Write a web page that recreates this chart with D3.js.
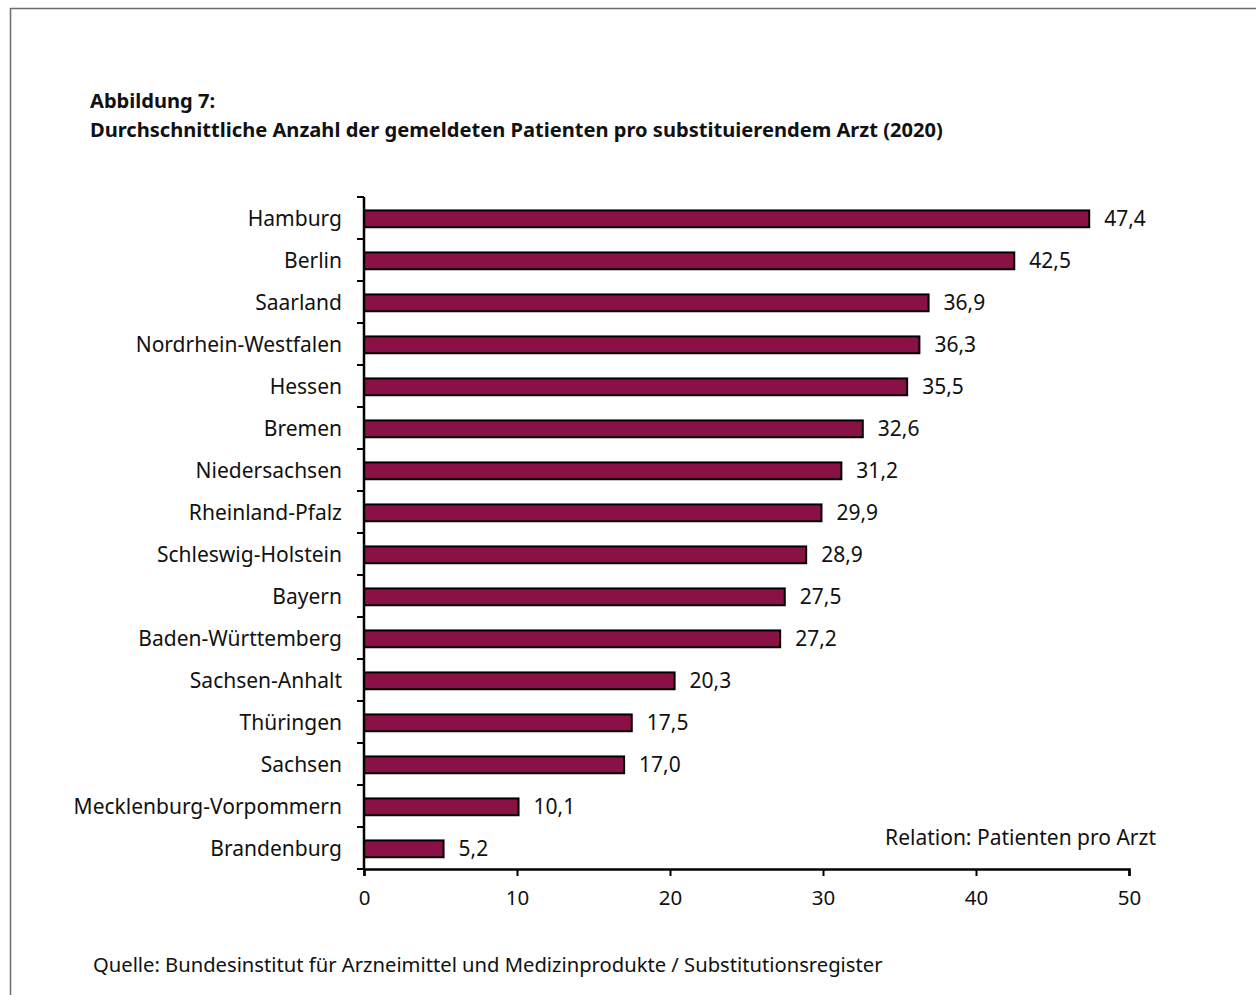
<!DOCTYPE html>
<html>
<head>
<meta charset="utf-8">
<script src="https://cdn.jsdelivr.net/npm/d3@7"></script>
<style>
  html, body { margin: 0; padding: 0; background: #fff; }
  svg { display: block; font-family: "Noto Sans", "Open Sans", sans-serif; }
</style>
</head>
<body>
<svg id="chart" width="1256" height="995"></svg>
<script>
// Patients per substituting physician by federal state (2020)
const states = [
  "Hamburg", "Berlin", "Saarland", "Nordrhein-Westfalen", "Hessen", "Bremen",
  "Niedersachsen", "Rheinland-Pfalz", "Schleswig-Holstein", "Bayern",
  "Baden-Württemberg", "Sachsen-Anhalt", "Thüringen", "Sachsen",
  "Mecklenburg-Vorpommern", "Brandenburg"
];
const patientsPerDoctor = [47.4, 42.5, 36.9, 36.3, 35.5, 32.6, 31.2, 29.9, 28.9, 27.5, 27.2, 20.3, 17.5, 17.0, 10.1, 5.2];
const xTicks = [0, 10, 20, 30, 40, 50];

const titleLines = [
  "Abbildung 7:",
  "Durchschnittliche Anzahl der gemeldeten Patienten pro substituierendem Arzt (2020)"
];
const noteText = "Relation: Patienten pro Arzt";
const sourceText = "Quelle: Bundesinstitut für Arzneimittel und Medizinprodukte / Substitutionsregister";

const svg = d3.select("#chart");
const fmt = v => d3.format(".1f")(v).replace(".", ",");

// outer frame (open to the right and bottom)
svg.append("path")
  .attr("d", "M10.5,995 V8.5 H1256")
  .attr("fill", "none")
  .attr("stroke", "#6b6b6b")
  .attr("stroke-width", 1.5);

// title
svg.selectAll("text.title").data(titleLines).join("text")
  .attr("class", "title")
  .attr("x", 90)
  .attr("y", (d, i) => 108 + i * 29)
  .attr("font-size", 20.1)
  .attr("font-weight", "bold")
  .attr("fill", "#111")
  .text(d => d);

const x = d3.scaleLinear().domain([0, 50]).range([364, 1129]);
const band = d3.scaleBand().domain(states).range([197, 869]);
const barTop = d => band(d) + band.bandwidth() * 0.32;
const barH = band.bandwidth() * 0.40;

// bars
svg.append("g").selectAll("rect").data(states).join("rect")
  .attr("x", x(0))
  .attr("y", d => barTop(d))
  .attr("width", (d, i) => x(patientsPerDoctor[i]) - x(0))
  .attr("height", barH)
  .attr("fill", "#8a1146")
  .attr("stroke", "#000")
  .attr("stroke-width", 2);

// value labels
svg.append("g").selectAll("text").data(states).join("text")
  .attr("x", (d, i) => x(patientsPerDoctor[i]) + 15)
  .attr("y", d => barTop(d) + barH / 2)
  .attr("dy", "0.36em")
  .attr("font-size", 21)
  .attr("fill", "#111")
  .text((d, i) => fmt(patientsPerDoctor[i]));

// category labels
svg.append("g").selectAll("text").data(states).join("text")
  .attr("x", 342)
  .attr("y", d => barTop(d) + barH / 2)
  .attr("dy", "0.36em")
  .attr("text-anchor", "end")
  .attr("font-size", 21)
  .attr("fill", "#111")
  .text(d => d);

// y axis line with band boundary ticks
const yAxisG = svg.append("g");
yAxisG.append("line")
  .attr("x1", x(0)).attr("x2", x(0))
  .attr("y1", 197).attr("y2", 869)
  .attr("stroke", "#000").attr("stroke-width", 2.5);
const boundaries = states.map(s => band(s)).concat([869]);
yAxisG.selectAll("line.tk").data(boundaries).join("line")
  .attr("class", "tk")
  .attr("x1", x(0) - 7).attr("x2", x(0))
  .attr("y1", d => d).attr("y2", d => d)
  .attr("stroke", "#000").attr("stroke-width", 2);

// x axis
const xAxis = d3.axisBottom(x).tickValues(xTicks).tickSize(7).tickPadding(14).tickFormat(d3.format("d"));
const xg = svg.append("g").attr("transform", "translate(0,869)").call(xAxis);
xg.select(".domain").attr("stroke", "#000").attr("stroke-width", 2.5);
xg.selectAll(".tick line").attr("stroke", "#000").attr("stroke-width", 2);
xg.selectAll(".tick text").attr("font-size", 20.5).attr("fill", "#111")
  .attr("font-family", "\"Noto Sans\", \"Open Sans\", sans-serif");

// note
svg.append("text")
  .attr("x", 1156).attr("y", 845)
  .attr("text-anchor", "end")
  .attr("font-size", 21)
  .attr("fill", "#111")
  .text(noteText);

// source
svg.append("text")
  .attr("x", 93).attr("y", 972)
  .attr("font-size", 20.2)
  .attr("fill", "#111")
  .text(sourceText);
</script>
</body>
</html>
